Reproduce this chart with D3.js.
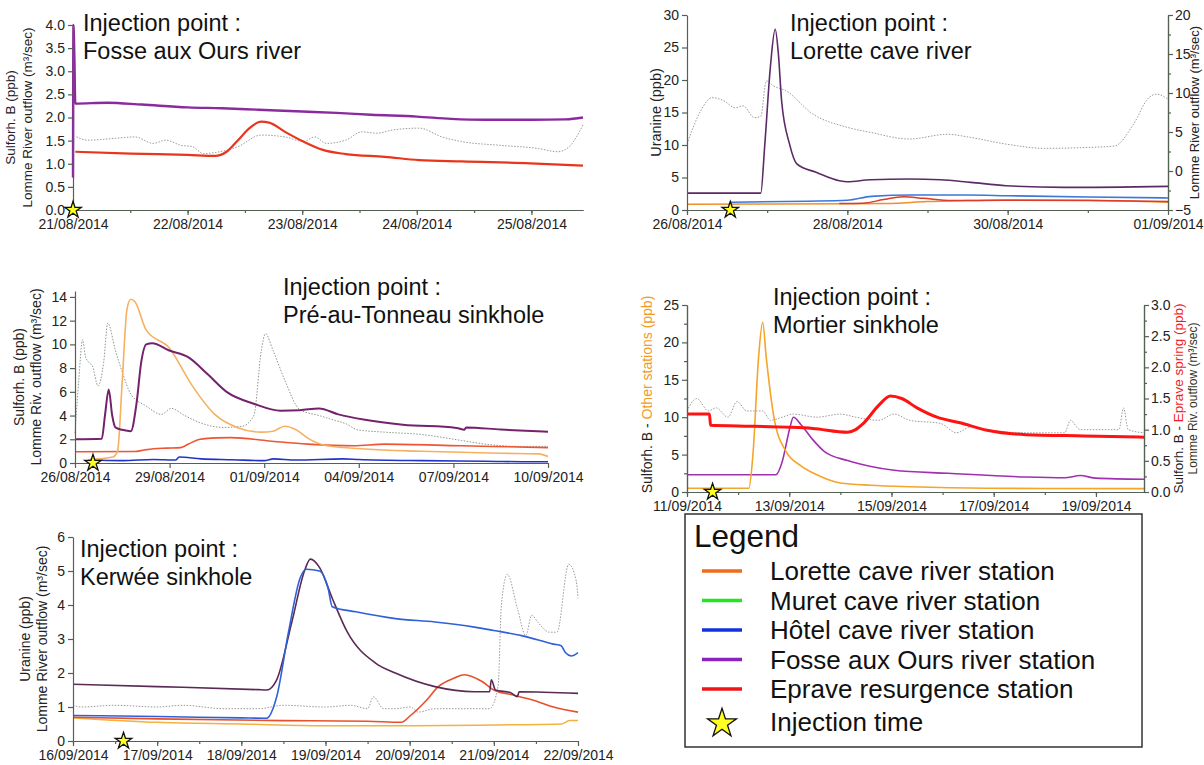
<!DOCTYPE html>
<html>
<head>
<meta charset="utf-8">
<script src="https://cdn.jsdelivr.net/npm/d3@7"></script>
<style>
body { margin: 0; background: #fff; }
text { font-family: "Liberation Sans", Arial, sans-serif; }
</style>
</head>
<body>
<svg id="fig" width="1204" height="765"></svg>
<script>
// ---- data : [days since first tick, value] ----
var p1Ticks = ["21/08/2014", "22/08/2014", "23/08/2014", "24/08/2014", "25/08/2014"];
var p1Fosse = [[0,0.7],[0.004,4.0],[0.012,3.3],[0.02,2.3],[0.3,2.32],[0.6,2.28],[1.0,2.22],[1.3,2.2],[1.6,2.17],[2.0,2.13],[2.3,2.1],[2.6,2.06],[3.0,2.02],[3.3,1.97],[3.6,1.95],[4.0,1.95],[4.3,1.96],[4.45,2.0]];
var p1Eprave = [[0.02,1.26],[0.5,1.22],[1.0,1.19],[1.24,1.17],[1.34,1.26],[1.44,1.51],[1.54,1.77],[1.64,1.91],[1.71,1.89],[1.85,1.69],[2.01,1.48],[2.18,1.30],[2.38,1.21],[2.72,1.15],[3.02,1.08],[3.39,1.05],[3.99,1.01],[4.45,0.96]];
var p1Flow = [[0.03,1.58],[0.13,1.51],[0.37,1.55],[0.54,1.58],[0.70,1.44],[0.81,1.51],[0.94,1.40],[1.04,1.37],[1.14,1.22],[1.28,1.26],[1.44,1.37],[1.64,1.62],[1.85,1.58],[2.01,1.48],[2.11,1.58],[2.21,1.44],[2.38,1.51],[2.52,1.69],[2.65,1.66],[2.79,1.73],[3.02,1.77],[3.22,1.58],[3.39,1.48],[3.72,1.40],[4.06,1.33],[4.23,1.26],[4.33,1.37],[4.45,1.84]];

var p2Ticks = ["26/08/2014", "28/08/2014", "30/08/2014", "01/09/2014"];
var p2Fosse = [[0,2.6],[0.92,2.6],[0.97,10],[1.04,22],[1.10,27.8],[1.14,24],[1.18,16.8],[1.28,10.1],[1.37,7.1],[1.61,5.8],[1.90,4.5],[2.0,4.35],[2.29,4.66],[2.77,4.76],[3.16,4.66],[3.54,4.25],[3.98,3.74],[4.70,3.48],[6.0,3.64]];
var p2Hotel = [[0.55,1.2],[1.5,1.35],[2.0,1.5],[2.3,2.1],[2.8,2.3],[3.5,2.3],[4.0,2.2],[5.0,2.0],[6.0,1.85]];
var p2Lorette = [[0,0.9],[1,0.92],[2,0.95],[2.5,1.0],[3,1.3],[3.5,1.45],[4,1.55],[5,1.5],[6,1.2]];
var p2Eprave = [[1.9,1.0],[2.2,1.05],[2.45,1.6],[2.7,2.05],[2.95,1.8],[3.3,1.45],[4,1.5],[5,1.45],[6,1.3]];
var p2Flow = [[0,3.45],[0.17,7.7],[0.31,9.4],[0.46,9.0],[0.60,8.1],[0.70,8.35],[0.84,6.85],[0.92,7.0],[0.99,11.55],[1.08,10.9],[1.23,10.3],[1.57,7.3],[2.0,5.6],[2.29,4.95],[2.77,4.1],[3.25,4.7],[3.54,4.3],[3.98,3.45],[4.46,2.9],[4.94,3.0],[5.33,3.2],[5.57,6.0],[5.76,9.4],[5.86,9.85],[6.0,9.2]];

var p3Ticks = ["26/08/2014", "29/08/2014", "01/09/2014", "04/09/2014", "07/09/2014", "10/09/2014"];
var p3Fosse = [[0,2.0],[0.85,2.05],[0.95,4],[1.07,6.2],[1.18,4],[1.28,3.0],[1.5,2.8],[1.77,2.68],[1.95,5],[2.1,8.5],[2.26,10.0],[2.45,10.1],[2.99,9.48],[3.6,8.9],[4.2,7.5],[4.82,5.97],[5.67,5.0],[6.52,4.41],[7.13,4.45],[7.74,4.6],[8.35,4.1],[9.2,3.64],[10.4,3.23],[12.1,2.96],[12.35,2.8],[12.4,3.0],[13.5,2.82],[15.0,2.63]];
var p3Lorette = [[0.43,0.3],[1.2,0.5],[1.35,1.0],[1.5,7],[1.65,13.0],[1.77,13.8],[1.9,13.6],[2.26,11.2],[2.99,9.7],[3.72,6.5],[4.45,4.05],[5.18,2.96],[5.91,2.6],[6.28,2.68],[6.65,3.1],[7.01,2.8],[7.38,2.1],[7.99,1.45],[9.2,1.18],[11.0,0.99],[13.5,0.82],[14.7,0.77],[15.0,0.55]];
var p3Eprave = [[0,0.95],[1.89,0.97],[2.2,1.1],[2.5,1.2],[2.9,1.25],[3.35,1.3],[3.6,1.6],[3.96,2.0],[4.5,2.12],[4.94,2.14],[6.16,1.86],[7.38,1.59],[8.84,1.45],[9.82,1.59],[12.26,1.45],[15.0,1.3]];
var p3Hotel = [[0.43,0.25],[1.5,0.2],[2.5,0.3],[3.2,0.25],[3.3,0.5],[4.0,0.35],[5.0,0.28],[6.0,0.2],[6.3,0.35],[7.0,0.25],[8.5,0.35],[9.0,0.3],[11,0.2],[13,0.15],[14.5,0.1],[15,0.1]];
var p3Flow = [[0,2.5],[0.12,7],[0.24,10.4],[0.33,9],[0.43,8.5],[0.55,8.2],[0.73,6.5],[0.91,8.5],[1.04,11.8],[1.28,9.5],[1.52,7.5],[1.77,5.8],[2.26,4.8],[2.74,4.1],[3.05,4.6],[3.48,4.0],[3.96,3.4],[4.7,3.0],[5.3,3.1],[5.67,4.0],[5.91,9.5],[6.04,10.9],[6.28,9.5],[6.65,7.0],[7.13,4.5],[7.74,4.0],[8.23,3.6],[8.6,3.3],[8.96,2.8],[9.82,2.6],[11.0,2.4],[12.26,1.9],[12.99,1.6],[14.1,1.4],[15.0,1.4]];

var p4Ticks = ["11/09/2014", "13/09/2014", "15/09/2014", "17/09/2014", "19/09/2014"];
var p4Other = [[0,0.5],[1.21,0.5],[1.29,5],[1.40,18],[1.48,22.7],[1.55,18],[1.70,10],[1.93,5.5],[2.23,3.5],[2.54,2.3],[3.0,1.2],[3.6,0.9],[4.36,0.7],[5.87,0.5],[8.94,0.45]];
var p4Fosse = [[0,2.3],[1.74,2.3],[1.86,4],[2.01,8.5],[2.08,10],[2.23,9],[2.46,7.0],[2.69,5.4],[3.14,4.2],[3.6,3.4],[4.05,2.9],[5.11,2.5],[6.63,2.0],[7.39,1.9],[7.69,2.2],[8.0,1.85],[8.94,1.7]];
var p4Eprave = [[0,1.25],[0.44,1.25],[0.46,1.07],[1.0,1.06],[2.0,1.04],[2.46,1.02],[3.14,0.96],[3.3,1.0],[3.45,1.1],[3.75,1.39],[3.98,1.54],[4.2,1.5],[4.5,1.35],[4.89,1.2],[5.34,1.11],[5.87,0.99],[6.63,0.92],[7.77,0.9],[8.94,0.88]];
var p4Flow = [[0,1.3],[0.19,1.5],[0.42,1.3],[0.57,1.35],[0.8,1.2],[0.98,1.45],[1.17,1.3],[1.48,1.3],[1.63,1.15],[1.86,1.2],[2.08,1.25],[2.54,1.2],[3.0,1.25],[3.3,1.2],[3.75,1.15],[4.05,1.25],[4.36,1.15],[4.96,1.1],[5.27,0.95],[5.57,1.05],[5.87,1.0],[6.63,0.95],[7.39,0.95],[7.5,1.15],[7.69,1.0],[8.0,1.0],[8.45,1.0],[8.54,1.35],[8.63,1.0],[8.94,0.95]];

var p5Ticks = ["16/09/2014", "17/09/2014", "18/09/2014", "19/09/2014", "20/09/2014", "21/09/2014", "22/09/2014"];
var p5Fosse = [[0,1.67],[1,1.6],[2.2,1.51],[2.3,1.5],[2.42,1.8],[2.6,3.5],[2.75,5.0],[2.82,5.35],[2.93,5.1],[3.08,4.2],[3.26,3.2],[3.59,2.3],[3.83,2.0],[4.3,1.6],[4.77,1.45],[4.95,1.45],[4.97,1.8],[5.02,1.5],[5.2,1.42],[5.28,1.3],[5.3,1.45],[6.0,1.4]];
var p5Hotel = [[0,0.75],[1,0.72],[2,0.68],[2.3,0.67],[2.42,1.3],[2.56,3.2],[2.7,4.8],[2.77,5.05],[2.93,5.0],[3.03,4.5],[3.08,3.95],[3.36,3.8],[3.83,3.6],[4.3,3.5],[4.77,3.35],[5.0,3.25],[5.33,3.1],[5.71,2.85],[5.8,2.8],[5.85,2.6],[5.92,2.5],[6.0,2.6]];
var p5Eprave = [[0,0.7],[1,0.65],[2.5,0.6],[3.5,0.58],[3.9,0.55],[4.01,0.75],[4.2,1.2],[4.34,1.6],[4.53,1.85],[4.65,1.95],[4.86,1.75],[5.0,1.5],[5.23,1.35],[5.47,1.2],[5.71,1.0],[6.0,0.85]];
var p5Lorette = [[0,0.68],[1,0.55],[2,0.5],[3,0.45],[4,0.45],[5,0.47],[5.8,0.5],[5.9,0.6],[6.0,0.6]];
var p5Flow = [[0,1.05],[0.1,1.0],[0.5,1.05],[1.0,1.0],[1.3,1.05],[1.8,0.95],[2.2,0.95],[2.5,1.05],[3.0,1.0],[3.3,1.05],[3.5,0.95],[3.57,1.3],[3.69,0.95],[3.83,0.95],[4.01,1.0],[4.1,0.85],[4.3,0.95],[4.77,0.95],[4.95,0.95],[5.05,1.6],[5.09,4.0],[5.16,4.9],[5.28,3.9],[5.38,3.1],[5.45,3.7],[5.52,3.5],[5.66,3.2],[5.75,3.2],[5.89,5.2],[5.98,4.7],[6.0,4.2]];

var injectionDays = [0, 0.54, 0.57, 0.5, 0.6];
var injectionSites = ["Fosse aux Ours river", "Lorette cave river", "Pré-au-Tonneau sinkhole", "Mortier sinkhole", "Kerwée sinkhole"];

var legendLabels = ["Lorette cave river station", "Muret cave river station", "Hôtel cave river station", "Fosse aux Ours river station", "Eprave resurgence station"];
var legendColors = ["#f26a1b", "#22e622", "#1133dd", "#8a22bb", "#ee1616"];

// ---- drawing ----
var svg = d3.select("#fig");
var DAY = 864e5;
var parse = d3.utcParse("%d/%m/%Y");
var fmt = d3.utcFormat("%d/%m/%Y");
var axisColor = "#556055";
var flowColor = "#9a9a9a";

function toPts(start, arr) {
    return arr.map(function(p) { return {t: new Date(start.getTime() + p[0] * DAY), v: p[1]}; });
}

function styleAxis(g) {
    g.select(".domain").attr("stroke", axisColor).attr("stroke-width", 1.2);
    g.selectAll(".tick line").attr("stroke", axisColor).attr("stroke-width", 1.2);
    g.selectAll(".tick text").attr("fill", "#222").style("font-size", "14px")
        .style("font-family", "'Liberation Sans', Arial, sans-serif");
}

function star(g, x, y, size) {
    g.append("path")
        .attr("d", d3.symbol(d3.symbolStar, size)())
        .attr("transform", "translate(" + x + "," + y + ")")
        .attr("fill", "#ffff22")
        .attr("stroke", "#111")
        .attr("stroke-width", 1.3);
}

function drawPanel(c, idx) {
    var start = parse(c.ticks[0]);
    var x = d3.scaleUtc()
        .domain([start, new Date(start.getTime() + c.days * DAY)])
        .range([c.x0, c.x1]);
    var yL = d3.scaleLinear().domain(c.yL).range([c.yB, c.yT]);
    var yR = c.yR ? d3.scaleLinear().domain(c.yR).range([c.yB, c.yT]) : yL;

    var g = svg.append("g").attr("class", "panel" + idx);

    // series
    c.series.forEach(function(s) {
        var y = s.axis == "right" ? yR : yL;
        var line = d3.line()
            .x(function(d) { return x(d.t); })
            .y(function(d) { return y(d.v); })
            .curve(d3.curveMonotoneX);
        g.append("path")
            .datum(toPts(start, s.data))
            .attr("d", line)
            .attr("fill", "none")
            .attr("stroke", s.color)
            .attr("stroke-width", s.width || 1.5)
            .attr("stroke-dasharray", s.dash || null)
            .attr("stroke-linejoin", "round");
    });

    // x axis, major + minor ticks
    var tickDates = c.ticks.map(parse);
    if (c.minorHours) {
        var minor = d3.utcHour.every(c.minorHours).range(x.domain()[0], x.domain()[1]);
        g.append("g")
            .attr("transform", "translate(0," + c.yB + ")")
            .call(d3.axisBottom(x).tickValues(minor).tickFormat("").tickSize(3).tickSizeOuter(0))
            .call(styleAxis);
    }
    g.append("g")
        .attr("transform", "translate(0," + c.yB + ")")
        .call(d3.axisBottom(x).tickValues(tickDates).tickFormat(fmt).tickSize(5).tickSizeOuter(0).tickPadding(4))
        .call(styleAxis);

    // left axis
    if (c.yLMinor) {
        g.append("g")
            .attr("transform", "translate(" + c.x0 + ",0)")
            .call(d3.axisLeft(yL).tickValues(c.yLMinor).tickFormat("").tickSize(3).tickSizeOuter(0))
            .call(styleAxis);
    }
    g.append("g")
        .attr("transform", "translate(" + c.x0 + ",0)")
        .call(d3.axisLeft(yL).tickValues(c.yLTicks).tickFormat(d3.format(c.yFmt)).tickSize(5).tickSizeOuter(0).tickPadding(3))
        .call(styleAxis);

    // right axis
    if (c.yR) {
        g.append("g")
            .attr("transform", "translate(" + c.x1 + ",0)")
            .call(d3.axisRight(yR).tickValues(c.yRMinor).tickFormat("").tickSize(3).tickSizeOuter(0))
            .call(styleAxis);
        g.append("g")
            .attr("transform", "translate(" + c.x1 + ",0)")
            .call(d3.axisRight(yR).tickValues(c.yRTicks).tickFormat(d3.format(c.yRFmt)).tickSize(5).tickSizeOuter(0).tickPadding(2))
            .call(styleAxis);
    }

    // axis titles (rotated)
    var midY = (c.yB + c.yT) / 2;
    c.leftTitles.concat(c.rightTitles || []).forEach(function(t) {
        var tx = g.append("text")
            .attr("transform", "translate(" + t.x + "," + (midY + (t.dy || 0)) + ") rotate(-90)")
            .attr("text-anchor", "middle")
            .style("font-size", t.size || "13.5px")
            .attr("fill", "#222");
        t.parts.forEach(function(p) { tx.append("tspan").attr("fill", p[1]).text(p[0]); });
    });

    // title
    g.append("text").attr("x", c.titleX).attr("y", c.titleY)
        .style("font-size", "23.5px").attr("fill", "#111").text("Injection point :");
    g.append("text").attr("x", c.titleX).attr("y", c.titleY + 28)
        .style("font-size", "23.5px").attr("fill", "#111").text(injectionSites[idx]);

    // injection star
    star(g, x(new Date(start.getTime() + injectionDays[idx] * DAY)), c.yB, 85);
}

var black = "#222";

var panels = [
    {ticks: p1Ticks, days: 4.45, x0: 73, x1: 583, yT: 25, yB: 210,
     yL: [0, 4], yLTicks: d3.range(0, 4.01, 0.5), yFmt: ".1f", minorHours: 12,
     leftTitles: [{x: 15, parts: [["Sulforh. B (ppb)", black]]},
                  {x: 32, parts: [["Lomme River outflow (m³/sec)", black]]}],
     titleX: 83, titleY: 31,
     series: [
        {data: p1Flow, color: flowColor, width: 1, dash: "1.5,1.5"},
        {data: p1Eprave, color: "#e8361c", width: 2.2},
        {data: p1Fosse, color: "#8a2a9e", width: 2.4}
     ]},
    {ticks: p2Ticks, days: 6, x0: 687, x1: 1168, yT: 15, yB: 210,
     yL: [0, 30], yLTicks: d3.range(0, 31, 5), yFmt: "d", minorHours: 24,
     yR: [-5, 20], yRTicks: d3.range(-5, 21, 5), yRMinor: d3.range(-2.5, 20, 5), yRFmt: "d",
     leftTitles: [{x: 661, size: "14.5px", parts: [["Uranine (ppb)", black]]}],
     rightTitles: [{x: 1199, size: "13px", parts: [["Lomme River outflow (m³/sec)", black]]}],
     titleX: 790, titleY: 31,
     series: [
        {data: p2Flow, color: flowColor, width: 1, dash: "1.5,1.5", axis: "right"},
        {data: p2Lorette, color: "#f09028", width: 1.5},
        {data: p2Eprave, color: "#dd3a28", width: 1.5},
        {data: p2Hotel, color: "#3a78dc", width: 1.6},
        {data: p2Fosse, color: "#5c2a66", width: 1.6}
     ]},
    {ticks: p3Ticks, days: 15, x0: 75, x1: 548, yT: 291, yB: 463,
     yL: [0, 14.5], yLTicks: d3.range(0, 15, 2), yFmt: "d",
     leftTitles: [{x: 24, size: "14px", parts: [["Sulforh. B (ppb)", black]]},
                  {x: 41, size: "14px", parts: [["Lomme Riv. outflow (m³/sec)", black]]}],
     titleX: 283, titleY: 295,
     series: [
        {data: p3Flow, color: "#8a9a8a", width: 1, dash: "1.5,1.5"},
        {data: p3Hotel, color: "#2233cc", width: 1.6},
        {data: p3Eprave, color: "#ee5530", width: 1.6},
        {data: p3Lorette, color: "#f6b060", width: 1.6},
        {data: p3Fosse, color: "#74226c", width: 2}
     ]},
    {ticks: p4Ticks, days: 8.94, x0: 687, x1: 1144, yT: 305, yB: 492,
     yL: [0, 25], yLTicks: d3.range(0, 26, 5), yLMinor: d3.range(2.5, 25, 5), yFmt: "d", minorHours: 24,
     yR: [0, 3], yRTicks: d3.range(0, 3.01, 0.5), yRMinor: d3.range(0.25, 3, 0.5), yRFmt: ".1f",
     leftTitles: [{x: 652, size: "14px", dy: -4, parts: [["Sulforh. B - ", black], ["Other stations (ppb)", "#f29a22"]]}],
     rightTitles: [{x: 1183, parts: [["Sulforh. B - ", black], ["Eprave spring (ppb)", "#ee1c1c"]]},
                   {x: 1197, size: "12px", parts: [["Lomme Riv. outflow (m³/sec)", "#33331a"]]}],
     titleX: 773, titleY: 305,
     series: [
        {data: p4Flow, color: flowColor, width: 1, dash: "1.5,1.5", axis: "right"},
        {data: p4Fosse, color: "#a030b0", width: 1.6},
        {data: p4Other, color: "#f4a52a", width: 1.6},
        {data: p4Eprave, color: "#ff1212", width: 3, axis: "right"}
     ]},
    {ticks: p5Ticks, days: 6, x0: 73, x1: 578, yT: 537, yB: 741,
     yL: [0, 6], yLTicks: d3.range(0, 7, 1), yFmt: "d", minorHours: 12,
     leftTitles: [{x: 30, size: "14px", parts: [["Uranine (ppb)", black]]},
                  {x: 47, size: "14px", parts: [["Lomme River outflow (m³/sec)", black]]}],
     titleX: 80, titleY: 557,
     series: [
        {data: p5Flow, color: flowColor, width: 1, dash: "1.5,1.5"},
        {data: p5Lorette, color: "#f5b040", width: 1.5},
        {data: p5Eprave, color: "#e8502a", width: 1.6},
        {data: p5Fosse, color: "#5a2a55", width: 1.6},
        {data: p5Hotel, color: "#3060d8", width: 1.6}
     ]}
];

panels.forEach(drawPanel);

// ---- legend ----
var lg = svg.append("g");
lg.append("rect").attr("x", 685).attr("y", 514).attr("width", 457).attr("height", 233)
    .attr("fill", "#fff").attr("stroke", "#333").attr("stroke-width", 1.5);
lg.append("text").attr("x", 694).attr("y", 547).style("font-size", "31.5px").attr("fill", "#111").text("Legend");
var ly = d3.scaleLinear().domain([0, 1]).range([571, 600.5]);
legendLabels.forEach(function(l, i) {
    lg.append("line").attr("x1", 702).attr("x2", 742).attr("y1", ly(i)).attr("y2", ly(i))
        .attr("stroke", legendColors[i]).attr("stroke-width", 3.5);
    lg.append("text").attr("x", 770).attr("y", ly(i) + 9).style("font-size", "26px").attr("fill", "#111").text(l);
});
star(lg, 722, ly(5) + 5, 260);
lg.append("text").attr("x", 770).attr("y", ly(5) + 12).style("font-size", "26px").attr("fill", "#111").text("Injection time");
</script>
</body>
</html>
